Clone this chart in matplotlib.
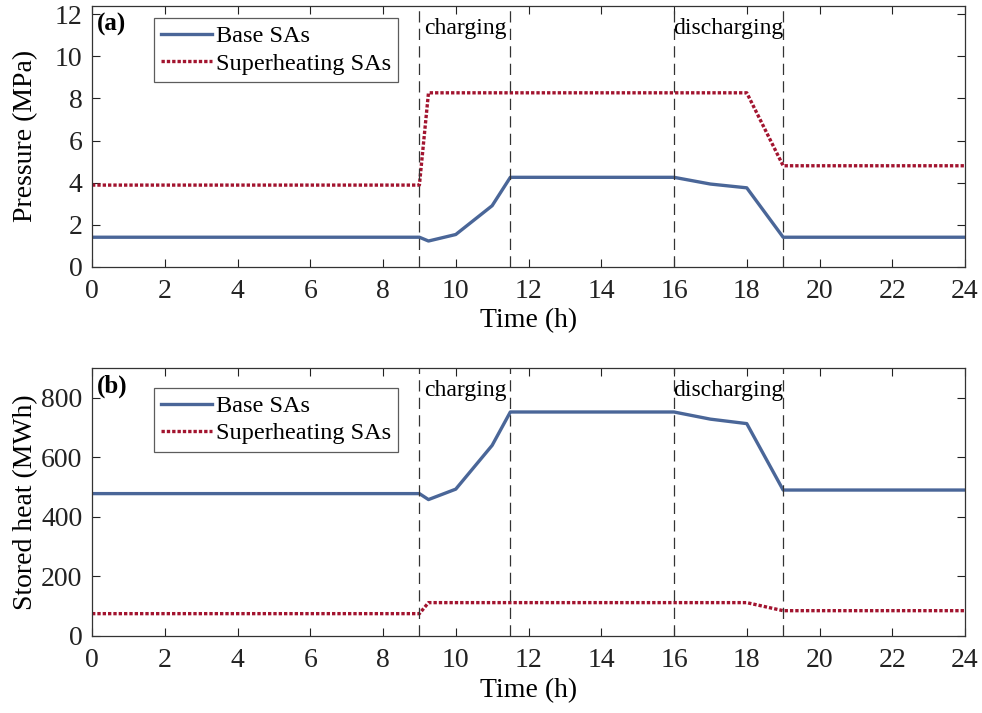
import numpy as np
import matplotlib
matplotlib.use("Agg")
import matplotlib.pyplot as plt

plt.rcParams["font.family"] = ["Liberation Serif", "DejaVu Serif"]
plt.rcParams["mathtext.fontset"] = "stix"

# time points (h)
hours = [0, 9, 9.25, 10, 11, 11.5, 16, 17, 18, 19, 24]

# pressure (MPa)
p_base = [1.4, 1.4, 1.22, 1.53, 2.9, 4.25, 4.25, 3.93, 3.75, 1.4, 1.4]
p_super = [3.88, 3.88, 8.27, 8.27, 8.27, 8.27, 8.27, 8.27, 8.27, 4.8, 4.8]

# stored heat (MWh)
q_base = [478, 478, 458, 493, 640, 752, 752, 728, 713, 490, 490]
q_super = [75, 75, 112, 112, 112, 112, 112, 112, 112, 85, 85]

phase_lines = [9, 11.5, 16, 19]
phase_text = [(9.12, "charging"), (15.98, "discharging")]

blue = "#4A6698"
red = "#A2142F"

fig = plt.figure(figsize=(9.82, 7.13), dpi=100)
ax1 = fig.add_axes([0.0937, 0.626, 0.889, 0.3656])
ax2 = fig.add_axes([0.0937, 0.108, 0.889, 0.376])


def draw_panel(ax, base, sup, ylim, yticks, ylabel, tag, leg_top):
    ax.plot(hours, base, color=blue, lw=2.4, label="Base SAs")
    ax.plot(hours, sup, color=red, lw=2.4, ls=(0, (1.0, 0.6)),
            label="Superheating SAs")
    for x in phase_lines:
        ax.axvline(x, color="#333333", lw=0.9, ls=(0, (9, 5)))
    for x, t in phase_text:
        ax.text(x, ylim[1] * 0.955, t, fontsize=17, va="top", ha="left")
    ax.text(0.006, 0.975, tag, transform=ax.transAxes, fontsize=18,
            fontweight="bold", va="top", ha="left")
    ax.set_xlim(0, 24)
    ax.set_ylim(*ylim)
    ax.set_xticks(np.arange(0, 25, 2))
    ax.set_yticks(yticks)
    ax.tick_params(direction="in", top=True, right=True, labelsize=20,
                   length=6, width=0.8, colors="#222222")
    ax.tick_params(axis="x", pad=9)
    ax.tick_params(axis="y", pad=7)
    for s in ax.spines.values():
        s.set_color("#333333")
        s.set_linewidth(0.9)
    ax.set_xlabel("Time (h)", fontsize=20, labelpad=3)
    ax.set_ylabel(ylabel, fontsize=20)
    ax.yaxis.set_label_coords(-0.062, 0.5)
    leg = ax.legend(loc="upper left", bbox_to_anchor=(0.071, leg_top),
                    fontsize=17.5, frameon=True, fancybox=False,
                    edgecolor="#333333", handlelength=2.1, handletextpad=0.15,
                    borderpad=0.3, labelspacing=0.22, borderaxespad=0)
    leg.get_frame().set_linewidth(0.9)


draw_panel(ax1, p_base, p_super, (0, 12.4), np.arange(0, 13, 2),
           "Pressure (MPa)", "(a)", 0.954)
draw_panel(ax2, q_base, q_super, (0, 900), np.arange(0, 801, 200),
           "Stored heat (MWh)", "(b)", 0.926)

fig.savefig("out.png", dpi=100)
